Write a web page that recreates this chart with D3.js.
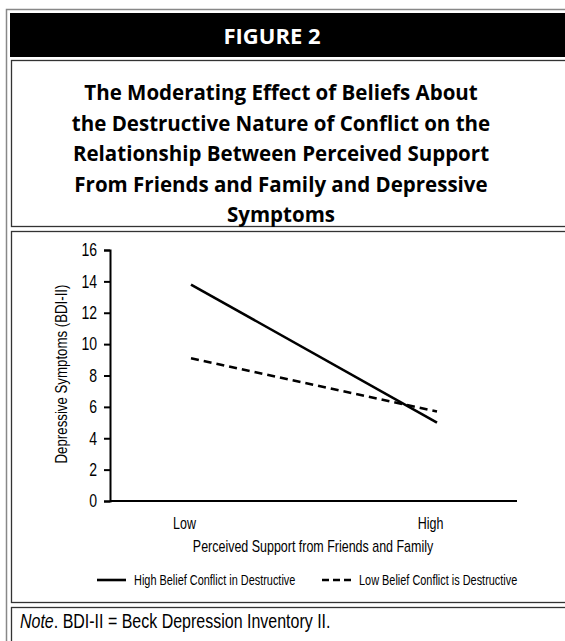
<!DOCTYPE html>
<html>
<head>
<meta charset="utf-8">
<script src="https://cdn.jsdelivr.net/npm/d3@7"></script>
<style>
  body { margin: 0; background: #fff; }
  svg { display: block; }
</style>
</head>
<body>
<script>
let width = 565,
    height = 641;

let categories = ["Low", "High"];
let highBelief = [13.8, 5.0];   // High Belief Conflict in Destructive
let lowBelief = [9.1, 5.7];     // Low Belief Conflict is Destructive
let yTicks = [0, 2, 4, 6, 8, 10, 12, 14, 16];
let seriesNames = ["High Belief Conflict in Destructive", "Low Belief Conflict is Destructive"];
let titleLines = ["The Moderating Effect of Beliefs About",
                  "the Destructive Nature of Conflict on the",
                  "Relationship Between Perceived Support",
                  "From Friends and Family and Depressive",
                  "Symptoms"];

// no condensed font available, so squeeze the text horizontally
let narrow = "'Liberation Sans', Arial, sans-serif";
let squeeze = 0.78;

let svg = d3.select("body")
            .append("svg")
            .attr("width", width)
            .attr("height", height);

// place squeezed text at (x, y)
function narrowText(sel, x, y, size, anchor) {
    return sel.append("text")
              .attr("transform", "translate(" + x + "," + y + ") scale(" + squeeze + ",1)")
              .attr("text-anchor", anchor || "start")
              .style("font-family", narrow)
              .style("font-size", size + "px");
}

// frame
svg.append("rect")
   .attr("x", 6.5).attr("y", 9.5)
   .attr("width", 600).attr("height", 700)
   .attr("fill", "none").attr("stroke", "#888").attr("stroke-width", 1.5);

svg.append("rect")
   .attr("x", 10).attr("y", 13)
   .attr("width", 600).attr("height", 44)
   .attr("fill", "#000");

svg.append("text")
   .attr("x", 272).attr("y", 44)
   .attr("text-anchor", "middle")
   .attr("fill", "#fff")
   .style("font-family", "'Open Sans', sans-serif")
   .style("font-weight", "bold")
   .style("font-size", "22px")
   .text("FIGURE 2");

// boxes
[[60, 166], [231, 371], [607, 40]].forEach(function(b) {
    svg.append("rect")
       .attr("x", 11.5).attr("y", b[0] + 0.5)
       .attr("width", 600).attr("height", b[1])
       .attr("fill", "none").attr("stroke", "#333").attr("stroke-width", 1.3);
});

// title
svg.append("text")
   .attr("text-anchor", "middle")
   .style("font-family", "'Open Sans', sans-serif")
   .style("font-weight", "bold")
   .style("font-size", "20.5px")
   .selectAll("tspan")
   .data(titleLines)
   .enter()
   .append("tspan")
   .attr("x", 281)
   .attr("y", function(d, i) { return 100 + i * 30.5; })
   .text(function(d) { return d; });

// scales
let xScale = d3.scalePoint()
               .domain(categories)
               .range([191, 437]);

let yScale = d3.scaleLinear()
               .domain([0, 16])
               .range([501, 250]);

// y axis
let yAxis = svg.append("g")
   .attr("transform", "translate(110,0)")
   .call(d3.axisLeft(yScale).tickValues(yTicks).tickSize(6));
yAxis.select(".domain").attr("stroke", "#000").attr("stroke-width", 2);
yAxis.selectAll(".tick line").attr("stroke", "#000").attr("stroke-width", 2);
yAxis.selectAll("text")
     .attr("x", -13 / squeeze)
     .attr("transform", "scale(" + squeeze + ",1)")
     .style("font-family", narrow)
     .style("font-size", "18px")
     .attr("fill", "#000");

// x axis
let xAxis = svg.append("g")
   .attr("transform", "translate(0,501)")
   .call(d3.axisBottom(xScale).tickSize(0).tickPadding(17));
xAxis.select(".domain").remove();
xAxis.append("line")
     .attr("x1", 110).attr("x2", 517)
     .attr("stroke", "#000").attr("stroke-width", 2);
xAxis.selectAll("text")
     .attr("x", -7 / squeeze)
     .attr("transform", "scale(" + squeeze + ",1)")
     .style("font-family", narrow)
     .style("font-size", "16px")
     .attr("fill", "#000");

// axis titles
narrowText(svg, 67, 374, 17, "middle")
   .attr("transform", "translate(67,374) rotate(-90) scale(" + squeeze + ",1)")
   .text("Depressive Symptoms (BDI-II)");

narrowText(svg, 313, 552, 16, "middle")
   .text("Perceived Support from Friends and Family");

// lines
let line = d3.line()
             .x(function(d, i) { return xScale(categories[i]); })
             .y(function(d) { return yScale(d); });

let dashes = [null, "8,5"];

svg.selectAll(".series")
   .data([highBelief, lowBelief])
   .enter()
   .append("path")
   .attr("class", "series")
   .attr("d", line)
   .attr("fill", "none")
   .attr("stroke", "#000")
   .attr("stroke-width", 2.6)
   .attr("stroke-dasharray", function(d, i) { return dashes[i]; });

// legend
let legendX = [97, 322];
let legend = svg.selectAll(".legend")
   .data(seriesNames)
   .enter()
   .append("g")
   .attr("class", "legend")
   .attr("transform", function(d, i) { return "translate(" + legendX[i] + ",580)"; });

legend.append("line")
      .attr("x1", 0).attr("x2", 29)
      .attr("stroke", "#000").attr("stroke-width", 2.6)
      .attr("stroke-dasharray", function(d, i) { return i ? "7,4" : null; });

legend.each(function(d) {
    narrowText(d3.select(this), 37, 5, 14).text(d);
});

// note
let note = narrowText(svg, 20, 628, 20.5);
note.append("tspan").style("font-style", "italic").text("Note");
note.append("tspan").text(". BDI-II = Beck Depression Inventory II.");
</script>
</body>
</html>
